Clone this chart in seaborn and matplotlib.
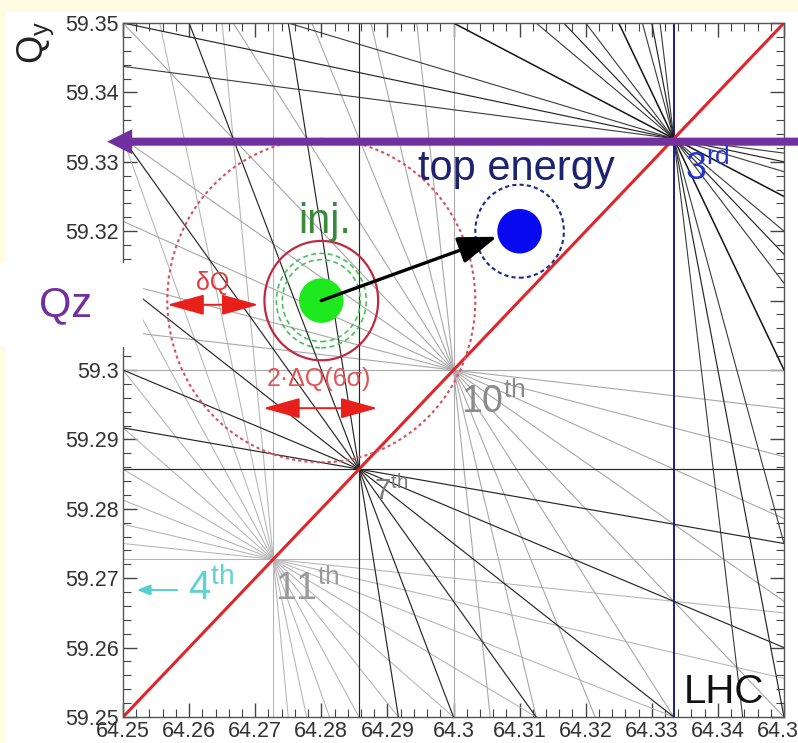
import matplotlib
matplotlib.use('Agg')
import matplotlib.pyplot as plt
from matplotlib.patches import Circle, Rectangle
from matplotlib.ticker import MultipleLocator, FuncFormatter
import seaborn as sns

# integer part of the tunes
qx_int, qy_int = 64, 59

# sum resonances m*Qx + n*Qy = p, grouped by order.
# each family crosses the diagonal at the fraction node_num/order
orders = [11, 10, 9, 7, 6, 3]
node_num = {3: 1, 6: 2, 7: 2, 9: 3, 10: 3, 11: 3}
res_m = {
    3: [3, 2, 1, 0],
    6: [5, 3, 1],
    7: [7, 6, 5, 4, 3, 2, 1, 0],
    9: [8, 7, 5, 4, 2, 1],
    10: [10, 9, 8, 7, 6, 5, 4, 3, 2, 1, 0],
    11: [11, 10, 9, 8, 7, 6, 5, 4, 3, 2, 1, 0],
}
res_n = {
    3: [0, 1, 2, 3],
    6: [1, 3, 5],
    7: [0, 1, 2, 3, 4, 5, 6, 7],
    9: [1, 2, 4, 5, 7, 8],
    10: [0, 1, 2, 3, 4, 5, 6, 7, 8, 9, 10],
    11: [0, 1, 2, 3, 4, 5, 6, 7, 8, 9, 10, 11],
}
line_color = {3: '#151515', 6: '#262626', 7: '#262626', 9: '#3a3a3a',
              10: '#a8a8a8', 11: '#b4b4b4'}
line_width = {3: 1.1, 6: 0.85, 7: 0.85, 9: 0.8, 10: 0.8, 11: 0.75}

# coupling resonance Qx - Qy = 5
coupling_diff = 5

# working points
tune_labels = ['inj.', 'top energy']
tune_qx = [64.28, 64.31]
tune_qy = [59.31, 59.32]

# circles around the working points
big_radius = 0.0233       # dotted red
dq6_radius = 0.0086       # solid red, 2*dQ(6 sigma)
inj_dash_radii = [0.0068, 0.0059]
top_dash_radius = 0.0067

sns.set_theme(style='ticks')
plt.rcParams['font.family'] = ['Liberation Sans', 'DejaVu Sans']
plt.rcParams['mathtext.fontset'] = 'custom'
plt.rcParams['mathtext.rm'] = 'Liberation Sans'
plt.rcParams['mathtext.it'] = 'Liberation Sans:italic'

W, H = 798, 743
fig = plt.figure(figsize=(W / 100, H / 100), dpi=100, facecolor='#fefde1')
fig.patches.append(Rectangle((6 / W, 0), 1, 731 / H, transform=fig.transFigure,
                             facecolor='white', edgecolor='none', zorder=-10))
ax = fig.add_axes([123 / W, 26 / H, 661 / W, 694 / H])
ax.set_facecolor('white')

# resonance lines
for o in orders:
    q = node_num[o] / o
    x0, y0 = qx_int + q, qy_int + q
    for m, n in zip(res_m[o], res_n[o]):
        c, lw = line_color[o], line_width[o]
        if o == 3 and (m == 0 or n == 0):
            c, lw = '#1b1b8a', 1.4
        if n == 0:
            ax.axvline(x0, color=c, lw=lw, zorder=1)
        elif m == 0:
            ax.axhline(y0, color=c, lw=lw, zorder=1)
        else:
            ax.axline((x0, y0), slope=-m / n, color=c, lw=lw, zorder=1)

ax.axline((qx_int + 0.3, qx_int + 0.3 - coupling_diff), slope=1,
          color='#e0252b', lw=2.2, zorder=2)

# circles
inj = (tune_qx[0], tune_qy[0])
top = (tune_qx[1], tune_qy[1])
ax.add_patch(Circle(inj, big_radius, fill=False, ec='#d65060', lw=1.5,
                    ls=(0, (1.5, 1.5)), zorder=3))
ax.add_patch(Circle(inj, dq6_radius, fill=False, ec='#c02a40', lw=1.6, zorder=3))
for r in inj_dash_radii:
    ax.add_patch(Circle(inj, r, fill=False, ec='#46c05c', lw=1.2,
                        ls=(0, (3, 2)), zorder=3))
ax.add_patch(Circle(top, top_dash_radius, fill=False, ec='#1c2a8c', lw=1.5,
                    ls=(0, (2, 1.5)), zorder=3))

sns.scatterplot(x=tune_qx, y=tune_qy, hue=tune_labels,
                palette=['#1ee81e', '#0a0af0'], s=1030, linewidth=0,
                legend=False, ax=ax, zorder=4)

# arrows
ax.annotate('', xy=(64.3066, 59.3192), xytext=inj,
            arrowprops=dict(arrowstyle='-|>,head_length=1.2,head_width=0.42',
                            color='black', lw=2.4, mutation_scale=20,
                            shrinkA=0, shrinkB=0), zorder=5)
red_arrow = dict(arrowstyle='<|-|>,head_length=1.15,head_width=0.32',
                 color='#e8201c', lw=1.4, mutation_scale=20, shrinkA=0, shrinkB=0)
ax.annotate('', xy=(64.2567, 59.3094), xytext=(64.2705, 59.3094),
            arrowprops=red_arrow, zorder=5)
ax.annotate('', xy=(64.2712, 59.2945), xytext=(64.2885, 59.2945),
            arrowprops=red_arrow, zorder=5)
ax.annotate('', xy=(64.2521, 59.2683), xytext=(64.2582, 59.2683),
            arrowprops=dict(arrowstyle='-|>,head_length=0.4,head_width=0.16',
                            color='#55cfd2', lw=1.4, mutation_scale=20,
                            shrinkA=0, shrinkB=0), zorder=5, annotation_clip=False)
ax.annotate('', xy=(64.2476, 59.3329), xytext=(64.3545, 59.3329),
            arrowprops=dict(arrowstyle='simple,head_length=1.8,head_width=1.8,tail_width=0.58',
                            fc='#7030a0', ec='none', mutation_scale=10,
                            shrinkA=0, shrinkB=0), zorder=7, annotation_clip=False)

# labels
txt = dict(ha='left', va='baseline', zorder=6)
ax.text(64.2947, 59.3274, 'top energy', fontsize=30, color='#1c2370', **txt)
ax.text(64.2765, 59.3197, 'inj.', fontsize=30, color='#3b8a3b', **txt)
ax.text(64.2635, 59.3125, 'δQ', fontsize=18, color='#e03c3c', ha='center',
        va='center', zorder=6)
ax.text(64.2797, 59.2987, '2·ΔQ(6σ)', fontsize=18, color='#e05555', ha='center',
        va='center', zorder=6)
ax.text(64.3350, 59.3274, r'3$^{\mathrm{rd}}$', fontsize=27, color='#2233cc', **txt)
ax.text(64.3011, 59.2938, r'10$^{\mathrm{th}}$', fontsize=27, color='#8a8a8a', **txt)
ax.text(64.2879, 59.2813, r'7$^{\mathrm{th}}$', fontsize=21, color='#7a7a7a', **txt)
ax.text(64.2730, 59.2669, r'11$^{\mathrm{th}}$', fontsize=27, color='#9a9a9a', **txt)
ax.text(64.2598, 59.2669, r'4$^{\mathrm{th}}$', fontsize=29, color='#5fd3d3', **txt)
ax.text(64.3348, 59.2520, 'LHC', fontsize=29, color='#111111', **txt)

# axes style
ax.set_xlim(64.25, 64.35)
ax.set_ylim(59.25, 59.35)
ax.xaxis.set_major_locator(MultipleLocator(0.01))
ax.xaxis.set_minor_locator(MultipleLocator(0.002))
ax.yaxis.set_major_locator(MultipleLocator(0.01))
ax.yaxis.set_minor_locator(MultipleLocator(0.002))
ax.xaxis.set_major_formatter(FuncFormatter(lambda v, p: f'{round(v, 2):g}'))
# the 59.31 label sits under the Qz box in the original
ax.yaxis.set_major_formatter(FuncFormatter(
    lambda v, p: '' if abs(v - 59.31) < 1e-6 else f'{round(v, 2):g}'))
ax.tick_params(which='both', direction='in', top=True, right=True,
               color='#444444', labelcolor='#333333')
ax.tick_params(which='major', length=10, width=1, labelsize=15.5, pad=3)
ax.tick_params(which='minor', length=5.5, width=0.8)
for s in ax.spines.values():
    s.set_color('#555555')
    s.set_linewidth(1)
ax.grid(False)

fig.text(36 / W, 1 - 42 / H, r'Q$_{\mathrm{y}}$', rotation=90, fontsize=26,
         color='#222222', ha='center', va='center')

# Qz overlay box
fig.patches.append(Rectangle((0, 396 / H), 143 / W, 84 / H, transform=fig.transFigure,
                             facecolor='white', edgecolor='none', zorder=5))
fig.text(66 / W, 1 - 305 / H, 'Qz', fontsize=30, color='#7030a0',
         ha='center', va='center', zorder=6)

fig.savefig('out.png', dpi=100, facecolor=fig.get_facecolor())
